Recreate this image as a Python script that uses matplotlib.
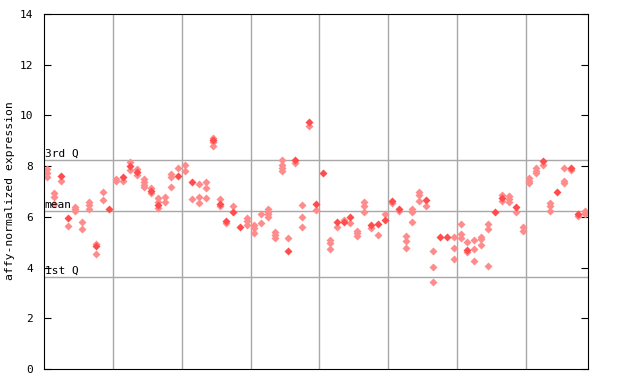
import matplotlib
matplotlib.use('Agg')
import matplotlib.pyplot as plt

# data: replicate values per sample (hatched) and the solid marker per sample
reps = [
    [7.88, 7.72, 7.57], [6.95, 6.79, 6.52], [7.43], [5.63], [6.38, 6.30, 6.22],
    [5.80, 5.54], [6.57, 6.45, 6.33], [4.94, 4.54], [6.97, 6.66], [],
    [7.49, 7.41], [7.41], [8.18, 7.85], [7.89, 7.66], [7.50, 7.37, 7.24, 7.16],
    [7.13, 6.95], [6.76, 6.58, 6.34], [6.80, 6.58], [7.71, 7.59, 7.18], [7.92],
    [8.04, 7.80], [6.70], [7.29, 6.78, 6.54], [7.38, 7.14, 6.74], [9.13, 8.95, 8.80],
    [6.71, 6.41], [5.75], [6.42], [], [5.95, 5.82, 5.69],
    [5.69, 5.56, 5.38], [6.11, 5.75], [6.32, 6.21, 6.11, 6.01], [5.41, 5.29, 5.16], [8.25, 8.05, 7.92, 7.81],
    [5.16], [8.12], [6.47, 6.01, 5.62], [9.59], [6.28],
    [], [5.07, 4.97, 4.74], [5.60], [5.88], [5.75],
    [5.45, 5.36, 5.23], [6.57, 6.41, 6.21], [5.58], [5.29], [6.11],
    [6.54], [6.24], [5.25, 5.03, 4.77], [6.32, 6.19, 5.80], [6.97, 6.87, 6.61],
    [6.42], [4.66, 4.02, 3.43], [], [], [5.20, 4.77, 4.33],
    [5.73, 5.33, 5.16], [5.00, 4.60], [5.08, 4.73, 4.27], [5.20, 5.12, 4.89], [5.73, 5.52, 4.06],
    [], [6.87, 6.63], [6.84, 6.71, 6.58], [6.19], [5.60, 5.46],
    [7.53, 7.43, 7.35], [7.92, 7.81, 7.72], [8.05], [6.54, 6.41, 6.25], [],
    [7.92, 7.43, 7.33], [7.83], [6.04], [6.25, 6.17, 6.11],
]
solid = [
    None, None, 7.63, 5.96, None, None, None, 4.86, None, 6.33,
    None, 7.59, 8.00, 7.76, None, 7.03, 6.45, None, None, 7.63,
    None, 7.39, None, None, 9.04, 6.50, 5.84, 6.21, 5.62, None,
    None, None, None, None, None, 4.64, 8.25, None, 9.73, 6.50,
    7.72, None, 5.78, 5.78, 6.01, None, None, 5.69, 5.70, 5.86,
    6.64, 6.33, None, None, None, 6.68, None, 5.19, 5.20, None,
    None, 4.70, None, None, None, 6.20, 6.76, None, 6.37, None,
    None, None, 8.22, None, 6.97, None, 7.92, 6.12, None,
]
q3, mean, q1 = 8.25, 6.23, 3.63
yticks = [0, 2, 4, 6, 8, 10, 12, 14]

mono = 'DejaVu Sans Mono'
fig = plt.figure(figsize=(6.4, 3.84), dpi=100)
ax = fig.add_axes([0.06875, 0.039, 0.85, 0.9245])

for x in range(9, 70, 10):
    ax.axvline(x + 0.5, color='#a8a8a8', lw=1, zorder=1)
for y in (q3, mean, q1):
    ax.axhline(y, color='#a8a8a8', lw=1, zorder=1)

hx = [i for i, vals in enumerate(reps) for v in vals]
hy = [v for vals in reps for v in vals]
ax.plot(hx, hy, 'D', ms=3.6, color='#ff8c8c', mec='none', zorder=2)
sx = [i for i, v in enumerate(solid) if v is not None]
sy = [v for v in solid if v is not None]
ax.plot(sx, sy, 'D', ms=4.2, color='#ff4d4d', mec='none', zorder=3)

for y, lab in ((q3, '3rd Q'), (mean, 'mean'), (q1, '1st Q')):
    ax.text(-0.4, y + 0.05, lab, fontsize=8, family=mono, va='bottom', ha='left', zorder=4)

ax.set_xlim(-0.5, 78.5)
ax.set_ylim(0, 14)
ax.set_xticks([])
ax.set_yticks(yticks)
ax.tick_params(axis='y', direction='in', length=5, labelsize=8, right=True, pad=8)
for lab in ax.get_yticklabels():
    lab.set_family(mono)
fig.text(0.016, 0.503, 'affy-normalized expression', fontsize=8.2, family=mono,
         rotation=90, ha='center', va='center')

fig.savefig('out.png', dpi=100)
